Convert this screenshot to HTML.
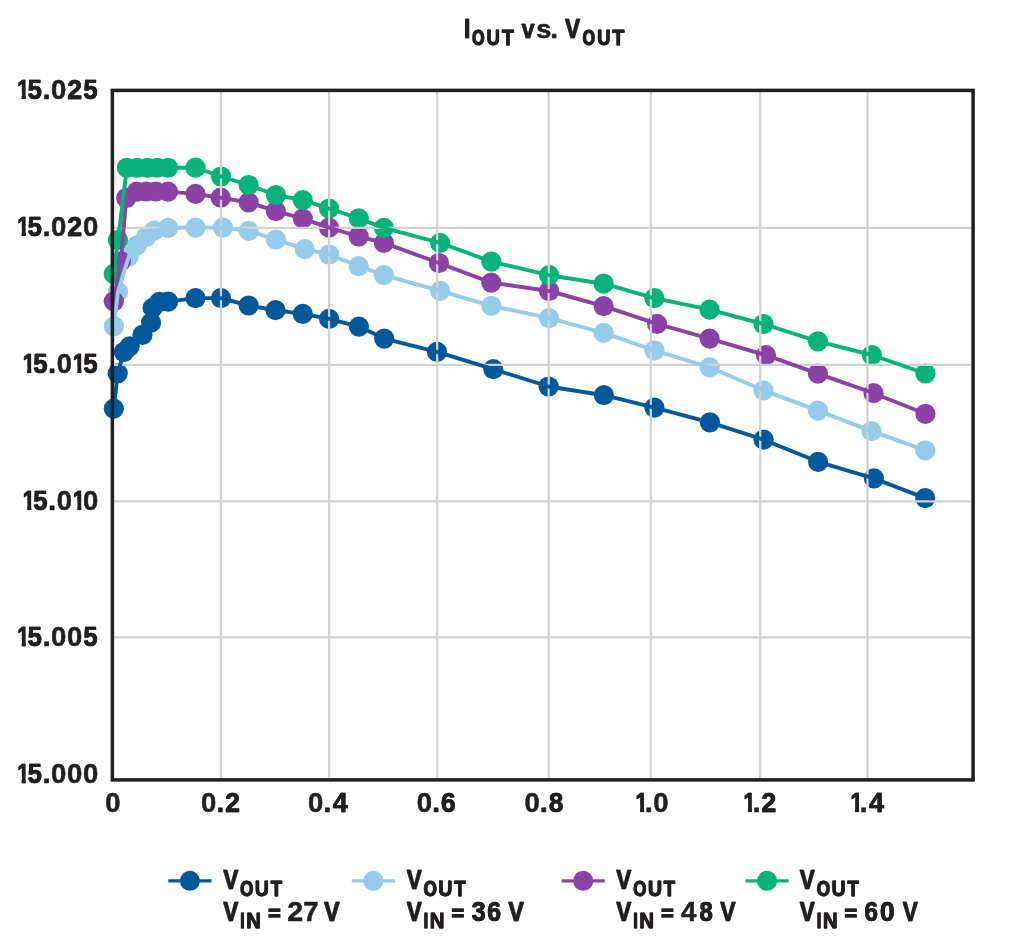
<!DOCTYPE html>
<html><head><meta charset="utf-8"><title>IOUT vs. VOUT</title>
<style>html,body{margin:0;padding:0;background:#fff;}body{width:1014px;height:940px;position:relative;overflow:hidden;font-family:"Liberation Sans",sans-serif;}</style>
</head><body>
<svg width="1014" height="940" viewBox="0 0 1014 940" style="position:absolute;left:0;top:0;will-change:transform;opacity:0.999"><defs><clipPath id="c1"><polygon points="22,3 39,3 39,-72 3,-72 3,-22 22,-22"/></clipPath></defs><rect width="1014" height="940" fill="#fff"/><circle cx="113.8" cy="408.6" r="10.1" fill="#03589c"/><circle cx="117.7" cy="373.3" r="10.1" fill="#03589c"/><circle cx="123.9" cy="352.0" r="10.1" fill="#03589c"/><circle cx="129.7" cy="346.3" r="10.1" fill="#03589c"/><circle cx="142.5" cy="334.8" r="10.1" fill="#03589c"/><circle cx="151.0" cy="322.7" r="10.1" fill="#03589c"/><circle cx="152.6" cy="307.8" r="10.1" fill="#03589c"/><circle cx="159.4" cy="301.8" r="10.1" fill="#03589c"/><circle cx="168.2" cy="301.6" r="10.1" fill="#03589c"/><circle cx="195.5" cy="298.1" r="10.1" fill="#03589c"/><circle cx="221.0" cy="298.1" r="10.1" fill="#03589c"/><circle cx="248.6" cy="305.5" r="10.1" fill="#03589c"/><circle cx="275.5" cy="310.2" r="10.1" fill="#03589c"/><circle cx="302.8" cy="313.9" r="10.1" fill="#03589c"/><circle cx="329.1" cy="318.9" r="10.1" fill="#03589c"/><circle cx="358.9" cy="326.6" r="10.1" fill="#03589c"/><circle cx="384.2" cy="338.6" r="10.1" fill="#03589c"/><circle cx="437.0" cy="351.9" r="10.1" fill="#03589c"/><circle cx="493.3" cy="369.2" r="10.1" fill="#03589c"/><circle cx="548.6" cy="386.5" r="10.1" fill="#03589c"/><circle cx="603.9" cy="395.2" r="10.1" fill="#03589c"/><circle cx="654.4" cy="407.6" r="10.1" fill="#03589c"/><circle cx="709.9" cy="422.4" r="10.1" fill="#03589c"/><circle cx="763.6" cy="439.7" r="10.1" fill="#03589c"/><circle cx="818.1" cy="461.8" r="10.1" fill="#03589c"/><circle cx="873.9" cy="478.4" r="10.1" fill="#03589c"/><circle cx="925.2" cy="498.1" r="10.1" fill="#03589c"/><circle cx="113.9" cy="326.3" r="10.1" fill="#96cbea"/><circle cx="118.0" cy="291.8" r="10.1" fill="#96cbea"/><circle cx="128.8" cy="256.4" r="10.1" fill="#96cbea"/><circle cx="137.0" cy="245.3" r="10.1" fill="#96cbea"/><circle cx="146.0" cy="237.0" r="10.1" fill="#96cbea"/><circle cx="154.2" cy="230.7" r="10.1" fill="#96cbea"/><circle cx="168.0" cy="227.8" r="10.1" fill="#96cbea"/><circle cx="195.5" cy="227.6" r="10.1" fill="#96cbea"/><circle cx="222.9" cy="227.6" r="10.1" fill="#96cbea"/><circle cx="248.6" cy="230.8" r="10.1" fill="#96cbea"/><circle cx="275.9" cy="239.6" r="10.1" fill="#96cbea"/><circle cx="304.7" cy="249.1" r="10.1" fill="#96cbea"/><circle cx="329.0" cy="254.5" r="10.1" fill="#96cbea"/><circle cx="358.7" cy="266.1" r="10.1" fill="#96cbea"/><circle cx="383.9" cy="275.2" r="10.1" fill="#96cbea"/><circle cx="440.1" cy="290.8" r="10.1" fill="#96cbea"/><circle cx="491.3" cy="305.8" r="10.1" fill="#96cbea"/><circle cx="549.1" cy="318.1" r="10.1" fill="#96cbea"/><circle cx="603.6" cy="332.9" r="10.1" fill="#96cbea"/><circle cx="654.4" cy="350.3" r="10.1" fill="#96cbea"/><circle cx="709.6" cy="367.3" r="10.1" fill="#96cbea"/><circle cx="763.5" cy="390.3" r="10.1" fill="#96cbea"/><circle cx="817.9" cy="410.6" r="10.1" fill="#96cbea"/><circle cx="871.5" cy="431.1" r="10.1" fill="#96cbea"/><circle cx="925.3" cy="450.4" r="10.1" fill="#96cbea"/><circle cx="113.8" cy="301.3" r="10.1" fill="#8a42a6"/><circle cx="120.9" cy="261.3" r="10.1" fill="#8a42a6"/><circle cx="126.2" cy="198.0" r="10.1" fill="#8a42a6"/><circle cx="136.8" cy="191.6" r="10.1" fill="#8a42a6"/><circle cx="146.3" cy="191.5" r="10.1" fill="#8a42a6"/><circle cx="155.8" cy="191.5" r="10.1" fill="#8a42a6"/><circle cx="168.0" cy="191.6" r="10.1" fill="#8a42a6"/><circle cx="195.5" cy="193.9" r="10.1" fill="#8a42a6"/><circle cx="220.7" cy="197.7" r="10.1" fill="#8a42a6"/><circle cx="248.6" cy="202.4" r="10.1" fill="#8a42a6"/><circle cx="275.9" cy="211.2" r="10.1" fill="#8a42a6"/><circle cx="302.8" cy="218.6" r="10.1" fill="#8a42a6"/><circle cx="329.0" cy="227.7" r="10.1" fill="#8a42a6"/><circle cx="358.7" cy="236.5" r="10.1" fill="#8a42a6"/><circle cx="383.9" cy="242.9" r="10.1" fill="#8a42a6"/><circle cx="438.9" cy="263.0" r="10.1" fill="#8a42a6"/><circle cx="491.3" cy="282.6" r="10.1" fill="#8a42a6"/><circle cx="549.1" cy="291.0" r="10.1" fill="#8a42a6"/><circle cx="603.6" cy="306.1" r="10.1" fill="#8a42a6"/><circle cx="657.1" cy="323.9" r="10.1" fill="#8a42a6"/><circle cx="709.6" cy="338.6" r="10.1" fill="#8a42a6"/><circle cx="766.0" cy="355.2" r="10.1" fill="#8a42a6"/><circle cx="817.9" cy="373.6" r="10.1" fill="#8a42a6"/><circle cx="873.5" cy="393.2" r="10.1" fill="#8a42a6"/><circle cx="925.4" cy="413.8" r="10.1" fill="#8a42a6"/><circle cx="113.7" cy="273.8" r="10.1" fill="#07b27b"/><circle cx="118.0" cy="240.0" r="10.1" fill="#07b27b"/><circle cx="126.9" cy="167.75" r="10.1" fill="#07b27b"/><circle cx="137.2" cy="167.75" r="10.1" fill="#07b27b"/><circle cx="147.5" cy="167.75" r="10.1" fill="#07b27b"/><circle cx="157.3" cy="167.75" r="10.1" fill="#07b27b"/><circle cx="168.0" cy="167.75" r="10.1" fill="#07b27b"/><circle cx="195.5" cy="167.7" r="10.1" fill="#07b27b"/><circle cx="221.0" cy="176.5" r="10.1" fill="#07b27b"/><circle cx="248.6" cy="185.0" r="10.1" fill="#07b27b"/><circle cx="275.9" cy="195.0" r="10.1" fill="#07b27b"/><circle cx="302.8" cy="200.2" r="10.1" fill="#07b27b"/><circle cx="329.0" cy="208.5" r="10.1" fill="#07b27b"/><circle cx="358.7" cy="218.4" r="10.1" fill="#07b27b"/><circle cx="383.9" cy="227.9" r="10.1" fill="#07b27b"/><circle cx="440.1" cy="242.8" r="10.1" fill="#07b27b"/><circle cx="491.3" cy="261.6" r="10.1" fill="#07b27b"/><circle cx="549.1" cy="275.2" r="10.1" fill="#07b27b"/><circle cx="603.6" cy="283.7" r="10.1" fill="#07b27b"/><circle cx="654.4" cy="298.2" r="10.1" fill="#07b27b"/><circle cx="709.6" cy="309.7" r="10.1" fill="#07b27b"/><circle cx="763.5" cy="324.0" r="10.1" fill="#07b27b"/><circle cx="817.9" cy="341.3" r="10.1" fill="#07b27b"/><circle cx="871.9" cy="355.0" r="10.1" fill="#07b27b"/><circle cx="925.4" cy="373.5" r="10.1" fill="#07b27b"/><line x1="221.0" y1="90.4" x2="221.0" y2="779.9" stroke="#d1d1d1" stroke-width="2.25"/><line x1="329.1" y1="90.4" x2="329.1" y2="779.9" stroke="#d1d1d1" stroke-width="2.25"/><line x1="437.15" y1="90.4" x2="437.15" y2="779.9" stroke="#d1d1d1" stroke-width="2.25"/><line x1="548.7" y1="90.4" x2="548.7" y2="779.9" stroke="#d1d1d1" stroke-width="2.25"/><line x1="650.85" y1="90.4" x2="650.85" y2="779.9" stroke="#d1d1d1" stroke-width="2.25"/><line x1="760.2" y1="90.4" x2="760.2" y2="779.9" stroke="#d1d1d1" stroke-width="2.25"/><line x1="867.5" y1="90.4" x2="867.5" y2="779.9" stroke="#d1d1d1" stroke-width="2.25"/><line x1="112.35" y1="227.9" x2="973.1" y2="227.9" stroke="#d1d1d1" stroke-width="2.2"/><line x1="112.35" y1="364.95" x2="973.1" y2="364.95" stroke="#d1d1d1" stroke-width="2.2"/><line x1="112.35" y1="501.4" x2="973.1" y2="501.4" stroke="#d1d1d1" stroke-width="2.2"/><line x1="112.35" y1="637.4" x2="973.1" y2="637.4" stroke="#d1d1d1" stroke-width="2.2"/><polyline points="113.8,301.3 120.9,261.3 126.2,198.0 136.8,191.6 146.3,191.5 155.8,191.5 168.0,191.6 195.5,193.9 220.7,197.7 248.6,202.4 275.9,211.2 302.8,218.6 329.0,227.7 358.7,236.5 383.9,242.9 438.9,263.0 491.3,282.6 549.1,291.0 603.6,306.1 657.1,323.9 709.6,338.6 766.0,355.2 817.9,373.6 873.5,393.2 925.4,413.8" fill="none" stroke="#8a42a6" stroke-width="3.9" stroke-linejoin="round"/><polyline points="113.7,273.8 118.0,240.0 126.9,167.75 137.2,167.75 147.5,167.75 157.3,167.75 168.0,167.75 195.5,167.7 221.0,176.5 248.6,185.0 275.9,195.0 302.8,200.2 329.0,208.5 358.7,218.4 383.9,227.9 440.1,242.8 491.3,261.6 549.1,275.2 603.6,283.7 654.4,298.2 709.6,309.7 763.5,324.0 817.9,341.3 871.9,355.0 925.4,373.5" fill="none" stroke="#07b27b" stroke-width="3.9" stroke-linejoin="round"/><polyline points="113.9,326.3 118.0,291.8 128.8,256.4 137.0,245.3 146.0,237.0 154.2,230.7 168.0,227.8 195.5,227.6 222.9,227.6 248.6,230.8 275.9,239.6 304.7,249.1 329.0,254.5 358.7,266.1 383.9,275.2 440.1,290.8 491.3,305.8 549.1,318.1 603.6,332.9 654.4,350.3 709.6,367.3 763.5,390.3 817.9,410.6 871.5,431.1 925.3,450.4" fill="none" stroke="#96cbea" stroke-width="3.9" stroke-linejoin="round"/><polyline points="113.8,408.6 117.7,373.3 123.9,352.0 129.7,346.3 142.5,334.8 151.0,322.7 152.6,307.8 159.4,301.8 168.2,301.6 195.5,298.1 221.0,298.1 248.6,305.5 275.5,310.2 302.8,313.9 329.1,318.9 358.9,326.6 384.2,338.6 437.0,351.9 493.3,369.2 548.6,386.5 603.9,395.2 654.4,407.6 709.9,422.4 763.6,439.7 818.1,461.8 873.9,478.4 925.2,498.1" fill="none" stroke="#03589c" stroke-width="3.9" stroke-linejoin="round"/><rect x="112.35" y="90.4" width="860.75" height="689.5" fill="none" stroke="#231f20" stroke-width="3.55"/><g font-family="Liberation Sans, sans-serif" font-weight="bold" font-size="100" fill="#231f20" stroke="#231f20" stroke-linejoin="round"><text clip-path="url(#c1)" stroke-width="1.93" transform="matrix(0.2143 0 0 0.2846 16.91 98.77)">1</text><text clip-path="url(#c1)" stroke-width="1.93" transform="matrix(0.2143 0 0 0.2846 17.58 98.77)">1</text><text stroke-width="1.93" transform="matrix(0.2564 0 0 0.2846 27.48 98.77)">5</text><text stroke-width="1.93" transform="matrix(0.2564 0 0 0.2846 27.79 98.77)">5</text><text stroke-width="1.93" transform="matrix(0.2943 0 0 0.2846 42.47 98.77)">.</text><text stroke-width="1.93" transform="matrix(0.2747 0 0 0.2846 51.08 98.77)">0</text><text stroke-width="1.93" transform="matrix(0.2674 0 0 0.2846 67.14 98.77)">2</text><text stroke-width="1.93" transform="matrix(0.2674 0 0 0.2846 67.33 98.77)">2</text><text stroke-width="1.93" transform="matrix(0.2564 0 0 0.2846 83.18 98.77)">5</text><text stroke-width="1.93" transform="matrix(0.2564 0 0 0.2846 83.49 98.77)">5</text><text clip-path="url(#c1)" stroke-width="1.93" transform="matrix(0.2143 0 0 0.2846 16.91 235.69)">1</text><text clip-path="url(#c1)" stroke-width="1.93" transform="matrix(0.2143 0 0 0.2846 17.58 235.69)">1</text><text stroke-width="1.93" transform="matrix(0.2564 0 0 0.2846 27.48 235.69)">5</text><text stroke-width="1.93" transform="matrix(0.2564 0 0 0.2846 27.79 235.69)">5</text><text stroke-width="1.93" transform="matrix(0.2943 0 0 0.2846 42.47 235.69)">.</text><text stroke-width="1.93" transform="matrix(0.2747 0 0 0.2846 51.08 235.69)">0</text><text stroke-width="1.93" transform="matrix(0.2674 0 0 0.2846 67.14 235.69)">2</text><text stroke-width="1.93" transform="matrix(0.2674 0 0 0.2846 67.33 235.69)">2</text><text stroke-width="1.93" transform="matrix(0.2747 0 0 0.2846 82.88 235.69)">0</text><text clip-path="url(#c1)" stroke-width="1.93" transform="matrix(0.2143 0 0 0.2846 22.51 372.62)">1</text><text clip-path="url(#c1)" stroke-width="1.93" transform="matrix(0.2143 0 0 0.2846 23.18 372.62)">1</text><text stroke-width="1.93" transform="matrix(0.2564 0 0 0.2846 33.08 372.62)">5</text><text stroke-width="1.93" transform="matrix(0.2564 0 0 0.2846 33.39 372.62)">5</text><text stroke-width="1.93" transform="matrix(0.2943 0 0 0.2846 48.07 372.62)">.</text><text stroke-width="1.93" transform="matrix(0.2747 0 0 0.2846 56.68 372.62)">0</text><text clip-path="url(#c1)" stroke-width="1.93" transform="matrix(0.2143 0 0 0.2846 72.61 372.62)">1</text><text clip-path="url(#c1)" stroke-width="1.93" transform="matrix(0.2143 0 0 0.2846 73.28 372.62)">1</text><text stroke-width="1.93" transform="matrix(0.2564 0 0 0.2846 83.18 372.62)">5</text><text stroke-width="1.93" transform="matrix(0.2564 0 0 0.2846 83.49 372.62)">5</text><text clip-path="url(#c1)" stroke-width="1.93" transform="matrix(0.2143 0 0 0.2846 22.51 509.54)">1</text><text clip-path="url(#c1)" stroke-width="1.93" transform="matrix(0.2143 0 0 0.2846 23.18 509.54)">1</text><text stroke-width="1.93" transform="matrix(0.2564 0 0 0.2846 33.08 509.54)">5</text><text stroke-width="1.93" transform="matrix(0.2564 0 0 0.2846 33.39 509.54)">5</text><text stroke-width="1.93" transform="matrix(0.2943 0 0 0.2846 48.07 509.54)">.</text><text stroke-width="1.93" transform="matrix(0.2747 0 0 0.2846 56.68 509.54)">0</text><text clip-path="url(#c1)" stroke-width="1.93" transform="matrix(0.2143 0 0 0.2846 72.61 509.54)">1</text><text clip-path="url(#c1)" stroke-width="1.93" transform="matrix(0.2143 0 0 0.2846 73.28 509.54)">1</text><text stroke-width="1.93" transform="matrix(0.2747 0 0 0.2846 82.88 509.54)">0</text><text clip-path="url(#c1)" stroke-width="1.93" transform="matrix(0.2143 0 0 0.2846 16.91 646.46)">1</text><text clip-path="url(#c1)" stroke-width="1.93" transform="matrix(0.2143 0 0 0.2846 17.58 646.46)">1</text><text stroke-width="1.93" transform="matrix(0.2564 0 0 0.2846 27.48 646.46)">5</text><text stroke-width="1.93" transform="matrix(0.2564 0 0 0.2846 27.79 646.46)">5</text><text stroke-width="1.93" transform="matrix(0.2943 0 0 0.2846 42.47 646.46)">.</text><text stroke-width="1.93" transform="matrix(0.2747 0 0 0.2846 51.08 646.46)">0</text><text stroke-width="1.93" transform="matrix(0.2747 0 0 0.2846 66.98 646.46)">0</text><text stroke-width="1.93" transform="matrix(0.2564 0 0 0.2846 83.18 646.46)">5</text><text stroke-width="1.93" transform="matrix(0.2564 0 0 0.2846 83.49 646.46)">5</text><text clip-path="url(#c1)" stroke-width="1.93" transform="matrix(0.2143 0 0 0.2846 16.91 783.38)">1</text><text clip-path="url(#c1)" stroke-width="1.93" transform="matrix(0.2143 0 0 0.2846 17.58 783.38)">1</text><text stroke-width="1.93" transform="matrix(0.2564 0 0 0.2846 27.48 783.38)">5</text><text stroke-width="1.93" transform="matrix(0.2564 0 0 0.2846 27.79 783.38)">5</text><text stroke-width="1.93" transform="matrix(0.2943 0 0 0.2846 42.47 783.38)">.</text><text stroke-width="1.93" transform="matrix(0.2747 0 0 0.2846 51.08 783.38)">0</text><text stroke-width="1.93" transform="matrix(0.2747 0 0 0.2846 66.98 783.38)">0</text><text stroke-width="1.93" transform="matrix(0.2747 0 0 0.2846 82.88 783.38)">0</text><text stroke-width="1.93" transform="matrix(0.2747 0 0 0.2846 105.13 811.62)">0</text><text stroke-width="1.93" transform="matrix(0.2747 0 0 0.2846 201.02 811.62)">0</text><text stroke-width="1.93" transform="matrix(0.2943 0 0 0.2846 216.31 811.62)">.</text><text stroke-width="1.93" transform="matrix(0.2674 0 0 0.2846 225.08 811.62)">2</text><text stroke-width="1.93" transform="matrix(0.2674 0 0 0.2846 225.27 811.62)">2</text><text stroke-width="1.93" transform="matrix(0.2747 0 0 0.2846 308.06 811.62)">0</text><text stroke-width="1.93" transform="matrix(0.2943 0 0 0.2846 323.35 811.62)">.</text><text stroke-width="1.93" transform="matrix(0.2704 0 0 0.2846 332.65 811.62)">4</text><text stroke-width="1.93" transform="matrix(0.2704 0 0 0.2846 332.81 811.62)">4</text><text stroke-width="1.93" transform="matrix(0.2747 0 0 0.2846 416.70 811.62)">0</text><text stroke-width="1.93" transform="matrix(0.2943 0 0 0.2846 431.99 811.62)">.</text><text stroke-width="1.93" transform="matrix(0.2660 0 0 0.2846 440.71 811.62)">6</text><text stroke-width="1.93" transform="matrix(0.2660 0 0 0.2846 440.91 811.62)">6</text><text stroke-width="1.93" transform="matrix(0.2747 0 0 0.2846 524.54 811.62)">0</text><text stroke-width="1.93" transform="matrix(0.2943 0 0 0.2846 539.83 811.62)">.</text><text stroke-width="1.93" transform="matrix(0.2590 0 0 0.2846 548.71 811.62)">8</text><text stroke-width="1.93" transform="matrix(0.2590 0 0 0.2846 548.99 811.62)">8</text><text clip-path="url(#c1)" stroke-width="1.93" transform="matrix(0.2143 0 0 0.2846 635.36 811.62)">1</text><text clip-path="url(#c1)" stroke-width="1.93" transform="matrix(0.2143 0 0 0.2846 636.03 811.62)">1</text><text stroke-width="1.93" transform="matrix(0.2943 0 0 0.2846 644.72 811.62)">.</text><text stroke-width="1.93" transform="matrix(0.2747 0 0 0.2846 653.33 811.62)">0</text><text clip-path="url(#c1)" stroke-width="1.93" transform="matrix(0.2143 0 0 0.2846 743.20 811.62)">1</text><text clip-path="url(#c1)" stroke-width="1.93" transform="matrix(0.2143 0 0 0.2846 743.87 811.62)">1</text><text stroke-width="1.93" transform="matrix(0.2943 0 0 0.2846 752.56 811.62)">.</text><text stroke-width="1.93" transform="matrix(0.2674 0 0 0.2846 761.33 811.62)">2</text><text stroke-width="1.93" transform="matrix(0.2674 0 0 0.2846 761.52 811.62)">2</text><text clip-path="url(#c1)" stroke-width="1.93" transform="matrix(0.2143 0 0 0.2846 850.24 811.62)">1</text><text clip-path="url(#c1)" stroke-width="1.93" transform="matrix(0.2143 0 0 0.2846 850.91 811.62)">1</text><text stroke-width="1.93" transform="matrix(0.2943 0 0 0.2846 859.60 811.62)">.</text><text stroke-width="1.93" transform="matrix(0.2704 0 0 0.2846 868.90 811.62)">4</text><text stroke-width="1.93" transform="matrix(0.2704 0 0 0.2846 869.06 811.62)">4</text><text stroke-width="1.93" transform="matrix(0.2506 0 0 0.2846 463.50 38.23)">I</text><text stroke-width="1.93" transform="matrix(0.2506 0 0 0.2846 463.74 38.23)">I</text><text stroke-width="3.57" transform="matrix(0.1588 0 0 0.2241 471.75 44.90)">O</text><text stroke-width="3.57" transform="matrix(0.1588 0 0 0.2241 472.51 44.90)">O</text><text stroke-width="3.57" transform="matrix(0.1837 0 0 0.2241 486.40 44.90)">U</text><text stroke-width="3.57" transform="matrix(0.1837 0 0 0.2241 486.86 44.90)">U</text><text stroke-width="3.57" transform="matrix(0.1968 0 0 0.2241 501.68 44.90)">T</text><text stroke-width="3.57" transform="matrix(0.1968 0 0 0.2241 501.99 44.90)">T</text><text stroke-width="2.08" transform="matrix(0.2315 0 0 0.2642 521.48 38.02)">v</text><text stroke-width="2.08" transform="matrix(0.2315 0 0 0.2642 521.85 38.02)">v</text><text stroke-width="2.09" transform="matrix(0.2719 0 0 0.2632 536.22 38.06)">s</text><text stroke-width="2.07" transform="matrix(0.2801 0 0 0.2651 550.17 38.02)">.</text><text stroke-width="1.93" transform="matrix(0.2244 0 0 0.2846 564.82 38.23)">V</text><text stroke-width="1.93" transform="matrix(0.2244 0 0 0.2846 565.51 38.23)">V</text><text stroke-width="3.57" transform="matrix(0.1588 0 0 0.2241 582.15 44.90)">O</text><text stroke-width="3.57" transform="matrix(0.1588 0 0 0.2241 582.91 44.90)">O</text><text stroke-width="3.57" transform="matrix(0.1837 0 0 0.2241 597.00 44.90)">U</text><text stroke-width="3.57" transform="matrix(0.1837 0 0 0.2241 597.46 44.90)">U</text><text stroke-width="3.57" transform="matrix(0.1947 0 0 0.2241 612.19 44.90)">T</text><text stroke-width="3.57" transform="matrix(0.1947 0 0 0.2241 612.52 44.90)">T</text><line x1="168.3" y1="880.9" x2="211.5" y2="880.9" stroke="#03589c" stroke-width="3.4"/><circle cx="189.9" cy="880.85" r="10.0" fill="#03589c" stroke="none"/><text stroke-width="1.93" transform="matrix(0.2226 0 0 0.2846 222.92 889.23)">V</text><text stroke-width="1.93" transform="matrix(0.2226 0 0 0.2846 223.63 889.23)">V</text><text stroke-width="3.57" transform="matrix(0.1692 0 0 0.2241 239.81 895.90)">O</text><text stroke-width="3.57" transform="matrix(0.1692 0 0 0.2241 240.45 895.90)">O</text><text stroke-width="3.57" transform="matrix(0.1940 0 0 0.2241 254.74 895.90)">U</text><text stroke-width="3.57" transform="matrix(0.1940 0 0 0.2241 255.08 895.90)">U</text><text stroke-width="3.57" transform="matrix(0.1842 0 0 0.2241 270.50 895.90)">T</text><text stroke-width="3.57" transform="matrix(0.1842 0 0 0.2241 270.95 895.90)">T</text><text stroke-width="1.93" transform="matrix(0.2226 0 0 0.2846 222.92 920.93)">V</text><text stroke-width="1.93" transform="matrix(0.2226 0 0 0.2846 223.63 920.93)">V</text><text stroke-width="3.57" transform="matrix(0.1656 0 0 0.2241 239.89 927.90)">I</text><text stroke-width="3.57" transform="matrix(0.1656 0 0 0.2241 240.30 927.90)">I</text><text stroke-width="3.57" transform="matrix(0.2035 0 0 0.2241 246.14 927.90)">N</text><text stroke-width="3.57" transform="matrix(0.2035 0 0 0.2241 246.37 927.90)">N</text><text stroke-width="8.24" transform="matrix(0.2096 0 0 0.2063 268.17 919.58)">=</text><text stroke-width="1.93" transform="matrix(0.2859 0 0 0.2846 287.37 920.93)">2</text><text stroke-width="1.93" transform="matrix(0.2761 0 0 0.2846 303.19 920.93)">7</text><text stroke-width="1.93" transform="matrix(0.2319 0 0 0.2846 323.81 920.93)">V</text><text stroke-width="1.93" transform="matrix(0.2319 0 0 0.2846 324.42 920.93)">V</text><line x1="351.79999999999995" y1="880.9" x2="395.0" y2="880.9" stroke="#96cbea" stroke-width="3.4"/><circle cx="373.4" cy="880.85" r="10.0" fill="#96cbea" stroke="none"/><text stroke-width="1.93" transform="matrix(0.2226 0 0 0.2846 406.42 889.23)">V</text><text stroke-width="1.93" transform="matrix(0.2226 0 0 0.2846 407.13 889.23)">V</text><text stroke-width="3.57" transform="matrix(0.1692 0 0 0.2241 423.31 895.90)">O</text><text stroke-width="3.57" transform="matrix(0.1692 0 0 0.2241 423.95 895.90)">O</text><text stroke-width="3.57" transform="matrix(0.1940 0 0 0.2241 438.24 895.90)">U</text><text stroke-width="3.57" transform="matrix(0.1940 0 0 0.2241 438.58 895.90)">U</text><text stroke-width="3.57" transform="matrix(0.1842 0 0 0.2241 454.00 895.90)">T</text><text stroke-width="3.57" transform="matrix(0.1842 0 0 0.2241 454.45 895.90)">T</text><text stroke-width="1.93" transform="matrix(0.2226 0 0 0.2846 406.42 920.93)">V</text><text stroke-width="1.93" transform="matrix(0.2226 0 0 0.2846 407.13 920.93)">V</text><text stroke-width="3.57" transform="matrix(0.1656 0 0 0.2241 423.39 927.90)">I</text><text stroke-width="3.57" transform="matrix(0.1656 0 0 0.2241 423.80 927.90)">I</text><text stroke-width="3.57" transform="matrix(0.2035 0 0 0.2241 429.64 927.90)">N</text><text stroke-width="3.57" transform="matrix(0.2035 0 0 0.2241 429.87 927.90)">N</text><text stroke-width="8.24" transform="matrix(0.2096 0 0 0.2063 451.67 919.58)">=</text><text stroke-width="1.93" transform="matrix(0.2538 0 0 0.2846 471.39 920.93)">3</text><text stroke-width="1.93" transform="matrix(0.2538 0 0 0.2846 471.73 920.93)">3</text><text stroke-width="1.93" transform="matrix(0.2473 0 0 0.2846 487.06 920.93)">6</text><text stroke-width="1.93" transform="matrix(0.2473 0 0 0.2846 487.47 920.93)">6</text><text stroke-width="1.93" transform="matrix(0.2319 0 0 0.2846 508.11 920.93)">V</text><text stroke-width="1.93" transform="matrix(0.2319 0 0 0.2846 508.72 920.93)">V</text><line x1="561.6" y1="880.9" x2="604.8000000000001" y2="880.9" stroke="#8a42a6" stroke-width="3.4"/><circle cx="583.2" cy="880.85" r="10.0" fill="#8a42a6" stroke="none"/><text stroke-width="1.93" transform="matrix(0.2226 0 0 0.2846 616.02 889.23)">V</text><text stroke-width="1.93" transform="matrix(0.2226 0 0 0.2846 616.73 889.23)">V</text><text stroke-width="3.57" transform="matrix(0.1692 0 0 0.2241 632.91 895.90)">O</text><text stroke-width="3.57" transform="matrix(0.1692 0 0 0.2241 633.55 895.90)">O</text><text stroke-width="3.57" transform="matrix(0.1940 0 0 0.2241 647.84 895.90)">U</text><text stroke-width="3.57" transform="matrix(0.1940 0 0 0.2241 648.18 895.90)">U</text><text stroke-width="3.57" transform="matrix(0.1842 0 0 0.2241 663.60 895.90)">T</text><text stroke-width="3.57" transform="matrix(0.1842 0 0 0.2241 664.05 895.90)">T</text><text stroke-width="1.93" transform="matrix(0.2226 0 0 0.2846 616.02 920.93)">V</text><text stroke-width="1.93" transform="matrix(0.2226 0 0 0.2846 616.73 920.93)">V</text><text stroke-width="3.57" transform="matrix(0.1656 0 0 0.2241 632.99 927.90)">I</text><text stroke-width="3.57" transform="matrix(0.1656 0 0 0.2241 633.40 927.90)">I</text><text stroke-width="3.57" transform="matrix(0.2035 0 0 0.2241 639.24 927.90)">N</text><text stroke-width="3.57" transform="matrix(0.2035 0 0 0.2241 639.47 927.90)">N</text><text stroke-width="8.24" transform="matrix(0.2096 0 0 0.2063 661.27 919.58)">=</text><text stroke-width="1.93" transform="matrix(0.2771 0 0 0.2846 680.96 920.93)">4</text><text stroke-width="1.93" transform="matrix(0.2382 0 0 0.2846 699.21 920.93)">8</text><text stroke-width="1.93" transform="matrix(0.2382 0 0 0.2846 699.72 920.93)">8</text><text stroke-width="1.93" transform="matrix(0.2300 0 0 0.2846 719.91 920.93)">V</text><text stroke-width="1.93" transform="matrix(0.2300 0 0 0.2846 720.54 920.93)">V</text><line x1="745.5" y1="880.9" x2="788.7" y2="880.9" stroke="#07b27b" stroke-width="3.4"/><circle cx="767.1" cy="880.85" r="10.0" fill="#07b27b" stroke="none"/><text stroke-width="1.93" transform="matrix(0.2226 0 0 0.2846 799.62 889.23)">V</text><text stroke-width="1.93" transform="matrix(0.2226 0 0 0.2846 800.33 889.23)">V</text><text stroke-width="3.57" transform="matrix(0.1692 0 0 0.2241 816.51 895.90)">O</text><text stroke-width="3.57" transform="matrix(0.1692 0 0 0.2241 817.15 895.90)">O</text><text stroke-width="3.57" transform="matrix(0.1940 0 0 0.2241 831.44 895.90)">U</text><text stroke-width="3.57" transform="matrix(0.1940 0 0 0.2241 831.78 895.90)">U</text><text stroke-width="3.57" transform="matrix(0.1842 0 0 0.2241 847.20 895.90)">T</text><text stroke-width="3.57" transform="matrix(0.1842 0 0 0.2241 847.65 895.90)">T</text><text stroke-width="1.93" transform="matrix(0.2226 0 0 0.2846 799.62 920.93)">V</text><text stroke-width="1.93" transform="matrix(0.2226 0 0 0.2846 800.33 920.93)">V</text><text stroke-width="3.57" transform="matrix(0.1656 0 0 0.2241 816.59 927.90)">I</text><text stroke-width="3.57" transform="matrix(0.1656 0 0 0.2241 817.00 927.90)">I</text><text stroke-width="3.57" transform="matrix(0.2035 0 0 0.2241 822.84 927.90)">N</text><text stroke-width="3.57" transform="matrix(0.2035 0 0 0.2241 823.07 927.90)">N</text><text stroke-width="8.24" transform="matrix(0.2096 0 0 0.2063 844.87 919.58)">=</text><text stroke-width="1.93" transform="matrix(0.2446 0 0 0.2846 864.17 920.93)">6</text><text stroke-width="1.93" transform="matrix(0.2446 0 0 0.2846 864.60 920.93)">6</text><text stroke-width="1.93" transform="matrix(0.2664 0 0 0.2846 879.71 920.93)">0</text><text stroke-width="1.93" transform="matrix(0.2664 0 0 0.2846 879.91 920.93)">0</text><text stroke-width="1.93" transform="matrix(0.2263 0 0 0.2846 902.42 920.93)">V</text><text stroke-width="1.93" transform="matrix(0.2263 0 0 0.2846 903.09 920.93)">V</text></g></svg>
</body></html>
